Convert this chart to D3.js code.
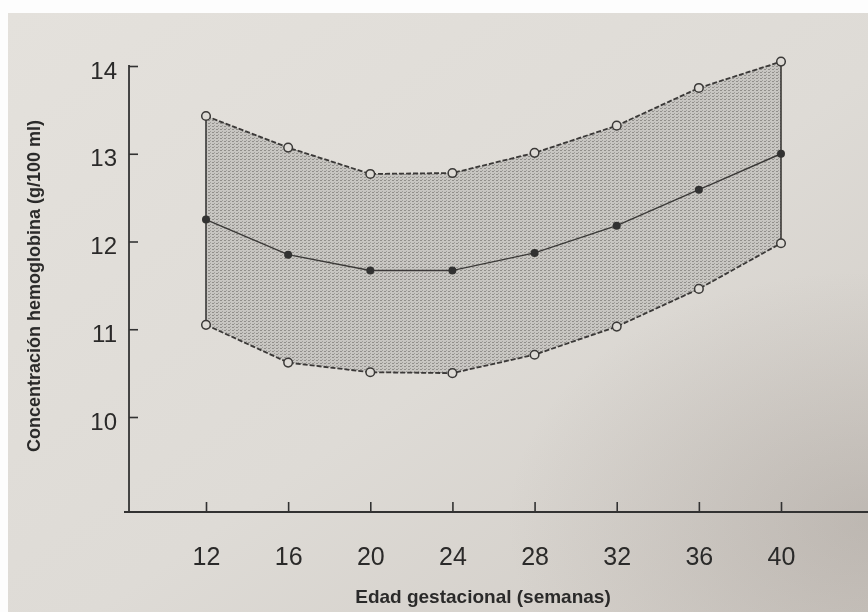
<!DOCTYPE html>
<html>
<head>
<meta charset="utf-8">
<script src="https://cdn.jsdelivr.net/npm/d3@7"></script>
<style>
  html, body { margin: 0; padding: 0; background: #fff; }
  svg { display: block; }
  text { font-family: "Liberation Sans", Arial, Helvetica, sans-serif; fill: #2b2a29; }
</style>
</head>
<body>
<script>
// hemoglobin band
const weeks = [12, 16, 20, 24, 28, 32, 36, 40];
const upper = [13.43, 13.07, 12.77, 12.78, 13.01, 13.32, 13.75, 14.05];
const mean  = [12.25, 11.85, 11.67, 11.67, 11.87, 12.18, 12.59, 13.00];
const lower = [11.05, 10.62, 10.51, 10.50, 10.71, 11.03, 11.46, 11.98];
const yTicks = [10, 11, 12, 13, 14];
const xTicks = [12, 16, 20, 24, 28, 32, 36, 40];

const width = 868, height = 612;
const axisX = 129, axisY = 512;

const svg = d3.select("body").append("svg")
  .attr("width", width)
  .attr("height", height);

const defs = svg.append("defs");

// paper
let paperGrad = defs.append("linearGradient")
  .attr("id", "paper")
  .attr("x1", "0").attr("y1", "0").attr("x2", "1").attr("y2", "1");
paperGrad.append("stop").attr("offset", "0%").attr("stop-color", "#e4e1dc");
paperGrad.append("stop").attr("offset", "55%").attr("stop-color", "#dedbd6");
paperGrad.append("stop").attr("offset", "100%").attr("stop-color", "#cfcac4");

let shade = defs.append("radialGradient")
  .attr("id", "shade")
  .attr("cx", "1").attr("cy", "0.85").attr("r", "0.42");
shade.append("stop").attr("offset", "0%").attr("stop-color", "#8a817b").attr("stop-opacity", 0.28);
shade.append("stop").attr("offset", "100%").attr("stop-color", "#8a817b").attr("stop-opacity", 0);

// stippled band texture
let pat = defs.append("pattern")
  .attr("id", "stipple")
  .attr("width", 4).attr("height", 3)
  .attr("patternUnits", "userSpaceOnUse");
pat.append("rect").attr("width", 4).attr("height", 3).attr("fill", "#c8c6c2");
pat.append("rect").attr("x", 0).attr("y", 0).attr("width", 2).attr("height", 1).attr("fill", "#918f8b");
pat.append("rect").attr("x", 2).attr("y", 2).attr("width", 1).attr("height", 1).attr("fill", "#a09e9a");

defs.append("filter").attr("id", "soft")
  .append("feGaussianBlur").attr("stdDeviation", 0.45);

svg.append("rect").attr("width", width).attr("height", height).attr("fill", "#fdfdfd");
svg.append("rect").attr("x", 8).attr("y", 13).attr("width", width - 8).attr("height", height - 13)
  .attr("fill", "url(#paper)");
svg.append("rect").attr("x", 8).attr("y", 13).attr("width", width - 8).attr("height", height - 13)
  .attr("fill", "url(#shade)");

const x = d3.scaleLinear().domain([12, 40]).range([206, 781]);
const y = d3.scaleLinear().domain([10, 14]).range([417, 66]);

const g = svg.append("g").attr("filter", "url(#soft)");

// band
const rows = weeks.map((w, i) => ({ w: w, up: upper[i], m: mean[i], lo: lower[i] }));

const area = d3.area()
  .x(d => x(d.w))
  .y0(d => y(d.lo))
  .y1(d => y(d.up));

g.append("path")
  .datum(rows)
  .attr("d", area)
  .attr("fill", "url(#stipple)");

const line = d3.line().x(d => d[0]).y(d => d[1]);

g.append("path")
  .datum(rows.map(d => [x(d.w), y(d.up)]))
  .attr("d", line)
  .attr("fill", "none")
  .attr("stroke", "#3a3937")
  .attr("stroke-width", 1.8)
  .attr("stroke-dasharray", "5,2");

g.append("path")
  .datum(rows.map(d => [x(d.w), y(d.lo)]))
  .attr("d", line)
  .attr("fill", "none")
  .attr("stroke", "#3a3937")
  .attr("stroke-width", 1.8)
  .attr("stroke-dasharray", "5,2");

// closing sides of the band
const ends = [rows[0], rows[rows.length - 1]];
g.selectAll(".side")
  .data(ends)
  .join("line")
  .attr("class", "side")
  .attr("x1", d => x(d.w)).attr("x2", d => x(d.w))
  .attr("y1", d => y(d.up)).attr("y2", d => y(d.lo))
  .attr("stroke", "#3a3937")
  .attr("stroke-width", 1.6);

g.append("path")
  .datum(rows.map(d => [x(d.w), y(d.m)]))
  .attr("d", line)
  .attr("fill", "none")
  .attr("stroke", "#3a3937")
  .attr("stroke-width", 1.4);

g.selectAll(".mean-dot")
  .data(rows)
  .join("circle")
  .attr("class", "mean-dot")
  .attr("cx", d => x(d.w))
  .attr("cy", d => y(d.m))
  .attr("r", 4)
  .attr("fill", "#333230");

g.selectAll(".open-dot")
  .data(rows.flatMap(d => [{ w: d.w, v: d.up }, { w: d.w, v: d.lo }]))
  .join("circle")
  .attr("class", "open-dot")
  .attr("cx", d => x(d.w))
  .attr("cy", d => y(d.v))
  .attr("r", 4.3)
  .attr("fill", "#dedbd6")
  .attr("stroke", "#3a3937")
  .attr("stroke-width", 1.5);

// axes
let yAxis = g.append("g")
  .attr("transform", `translate(${axisX},0)`)
  .call(d3.axisLeft(y).tickValues(yTicks).tickFormat(d3.format("d")).tickSize(-9).tickPadding(12));
yAxis.select(".domain").remove();
yAxis.selectAll(".tick line").attr("stroke", "#333").attr("stroke-width", 1.6);
yAxis.selectAll(".tick text")
  .attr("dy", "0.5em")
  .style("font-size", "24px")
  .style("font-family", "Liberation Sans, Arial, sans-serif")
  .attr("fill", "#2b2a29");

let xAxis = g.append("g")
  .attr("transform", `translate(0,${axisY})`)
  .call(d3.axisBottom(x).tickValues(xTicks).tickFormat(d3.format("d")).tickSize(-10));
xAxis.select(".domain").remove();
xAxis.selectAll(".tick line").attr("stroke", "#333").attr("stroke-width", 1.6);
xAxis.selectAll(".tick text")
  .attr("y", 53)
  .attr("dy", 0)
  .style("font-size", "25px")
  .style("font-family", "Liberation Sans, Arial, sans-serif")
  .attr("fill", "#2b2a29");

g.append("line")
  .attr("x1", axisX).attr("x2", axisX)
  .attr("y1", y(14) - 1).attr("y2", axisY)
  .attr("stroke", "#333").attr("stroke-width", 1.8);
g.append("line")
  .attr("x1", axisX - 5).attr("x2", width)
  .attr("y1", axisY).attr("y2", axisY)
  .attr("stroke", "#333").attr("stroke-width", 1.8);

// titles
g.append("text")
  .attr("x", 483)
  .attr("y", 603)
  .attr("text-anchor", "middle")
  .style("font-size", "19px")
  .style("font-weight", "bold")
  .text("Edad gestacional (semanas)");

g.append("text")
  .attr("transform", "translate(40,286) rotate(-90)")
  .attr("text-anchor", "middle")
  .style("font-size", "18px")
  .style("font-weight", "bold")
  .text("Concentración hemoglobina (g/100 ml)");
</script>
</body>
</html>
